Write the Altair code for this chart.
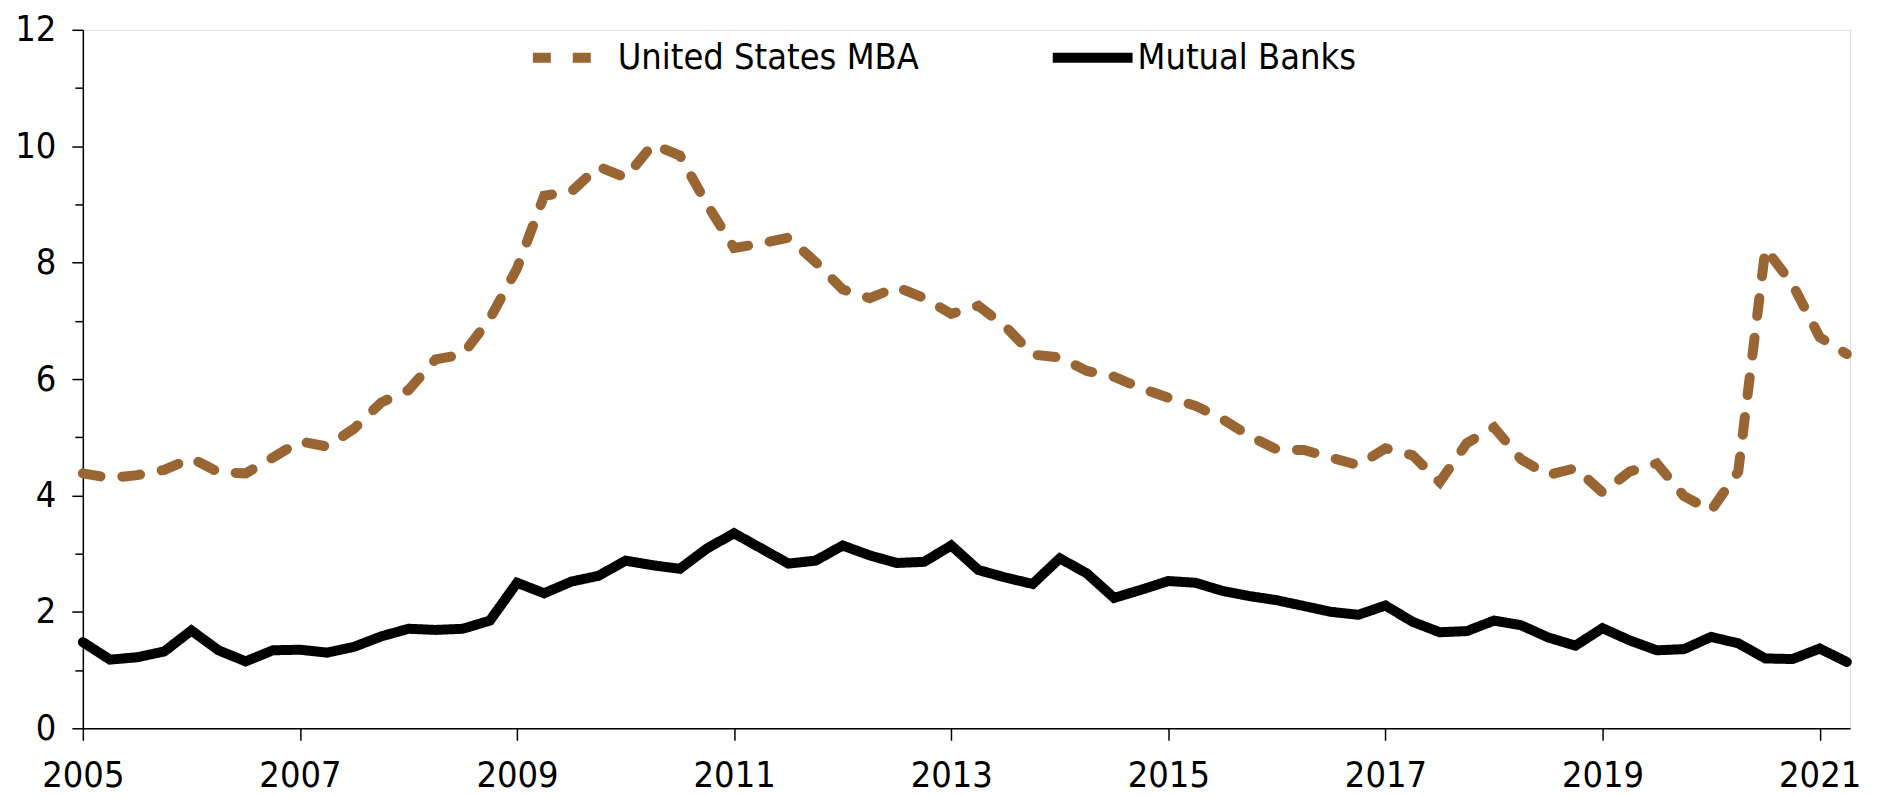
import altair as alt
import pandas as pd

# quarterly periods 2005Q1 .. 2021Q2
quarters = [f"{y}Q{q}" for y in range(2005, 2022) for q in range(1, 5)][:66]

mba = [4.38, 4.30, 4.35, 4.44, 4.64, 4.40, 4.38, 4.65, 4.93, 4.84, 5.15, 5.60,
       5.81, 6.34, 6.42, 7.04, 7.90, 9.15, 9.22, 9.65, 9.46, 10.03, 9.84, 9.00,
       8.25, 8.33, 8.43, 8.01, 7.54, 7.39, 7.58, 7.39, 7.12, 7.26, 6.90, 6.42,
       6.37, 6.14, 6.04, 5.84, 5.68, 5.54, 5.31, 5.02, 4.79, 4.78, 4.65, 4.52,
       4.81, 4.69, 4.23, 4.90, 5.17, 4.62, 4.35, 4.47, 4.05, 4.41, 4.55, 3.99,
       3.74, 4.41, 8.24, 7.63, 6.72, 6.43]

mutual = [1.48, 1.18, 1.22, 1.32, 1.68, 1.34, 1.15, 1.34, 1.35, 1.30, 1.40, 1.58,
          1.71, 1.69, 1.71, 1.85, 2.50, 2.32, 2.52, 2.62, 2.88, 2.80, 2.74, 3.09,
          3.35, 3.09, 2.83, 2.88, 3.14, 2.97, 2.84, 2.86, 3.14, 2.72, 2.59, 2.48,
          2.92, 2.66, 2.24, 2.38, 2.53, 2.50, 2.36, 2.27, 2.20, 2.10, 2.00, 1.95,
          2.11, 1.83, 1.65, 1.67, 1.85, 1.77, 1.56, 1.42, 1.72, 1.51, 1.34, 1.36,
          1.57, 1.46, 1.20, 1.19, 1.37, 1.14]

series_names = ["United States MBA", "Mutual Banks"]
series_colors = ["#996633", "#000000"]
series_dashes = [[18, 22], [1, 0]]
x_ticks = [2005, 2007, 2009, 2011, 2013, 2015, 2017, 2019, 2021]
y_ticks = list(range(0, 13))

FONT = "DejaVu Sans Condensed, DejaVu Sans, sans-serif"

rows = []
for name, vals in zip(series_names, [mba, mutual]):
    for q, v in zip(quarters, vals):
        yr = int(q[:4]) + (int(q[-1]) - 1) / 4
        rows.append({"series": name, "t": yr, "value": v})
df = pd.DataFrame(rows)

legend = alt.Legend(
    title=None, orient="none", legendX=446, legendY=-17, direction="horizontal",
    symbolType="stroke", symbolSize=6400, symbolStrokeWidth=10,
    labelFont=FONT, labelFontSize=36, labelColor="black", labelOffset=0,
    columnPadding=114, padding=0, labelLimit=500,
)

chart = alt.Chart(df).mark_line(
    strokeWidth=10, strokeCap="round", strokeJoin="miter"
).encode(
    x=alt.X("t:Q",
            scale=alt.Scale(domain=[2005, 2021.28], nice=False, zero=False),
            axis=alt.Axis(values=x_ticks, format="d", title=None, grid=False,
                          tickSize=12, labelPadding=18, labelFont=FONT,
                          labelFontSize=36, labelColor="black",
                          domainColor="black", domainWidth=1.5,
                          tickColor="black", tickWidth=1.5, labelFlush=False)),
    y=alt.Y("value:Q",
            scale=alt.Scale(domain=[0, 12], nice=False),
            axis=alt.Axis(values=y_ticks, title=None, grid=False,
                          labelExpr="datum.value % 2 == 0 ? datum.label : ''",
                          tickSize=alt.condition("datum.value % 2 == 0", alt.value(11), alt.value(8)),
                          labelPadding=16, labelFont=FONT, labelFontSize=36,
                          labelColor="black", domainColor="black", domainWidth=1.5,
                          tickColor="black", tickWidth=1.5)),
    color=alt.Color("series:N", sort=series_names,
                    scale=alt.Scale(domain=series_names, range=series_colors),
                    legend=legend),
    strokeDash=alt.StrokeDash("series:N", sort=series_names,
                              scale=alt.Scale(domain=series_names, range=series_dashes),
                              legend=legend),
).properties(
    width=1771, height=700,
    padding={"left": 75, "top": 21, "right": 20, "bottom": 67},
    autosize=alt.AutoSizeParams(type="none"),
).configure_view(stroke=None).configure(background="white")

chart.save("out.html", embed_options={"renderer": "svg", "actions": False})
